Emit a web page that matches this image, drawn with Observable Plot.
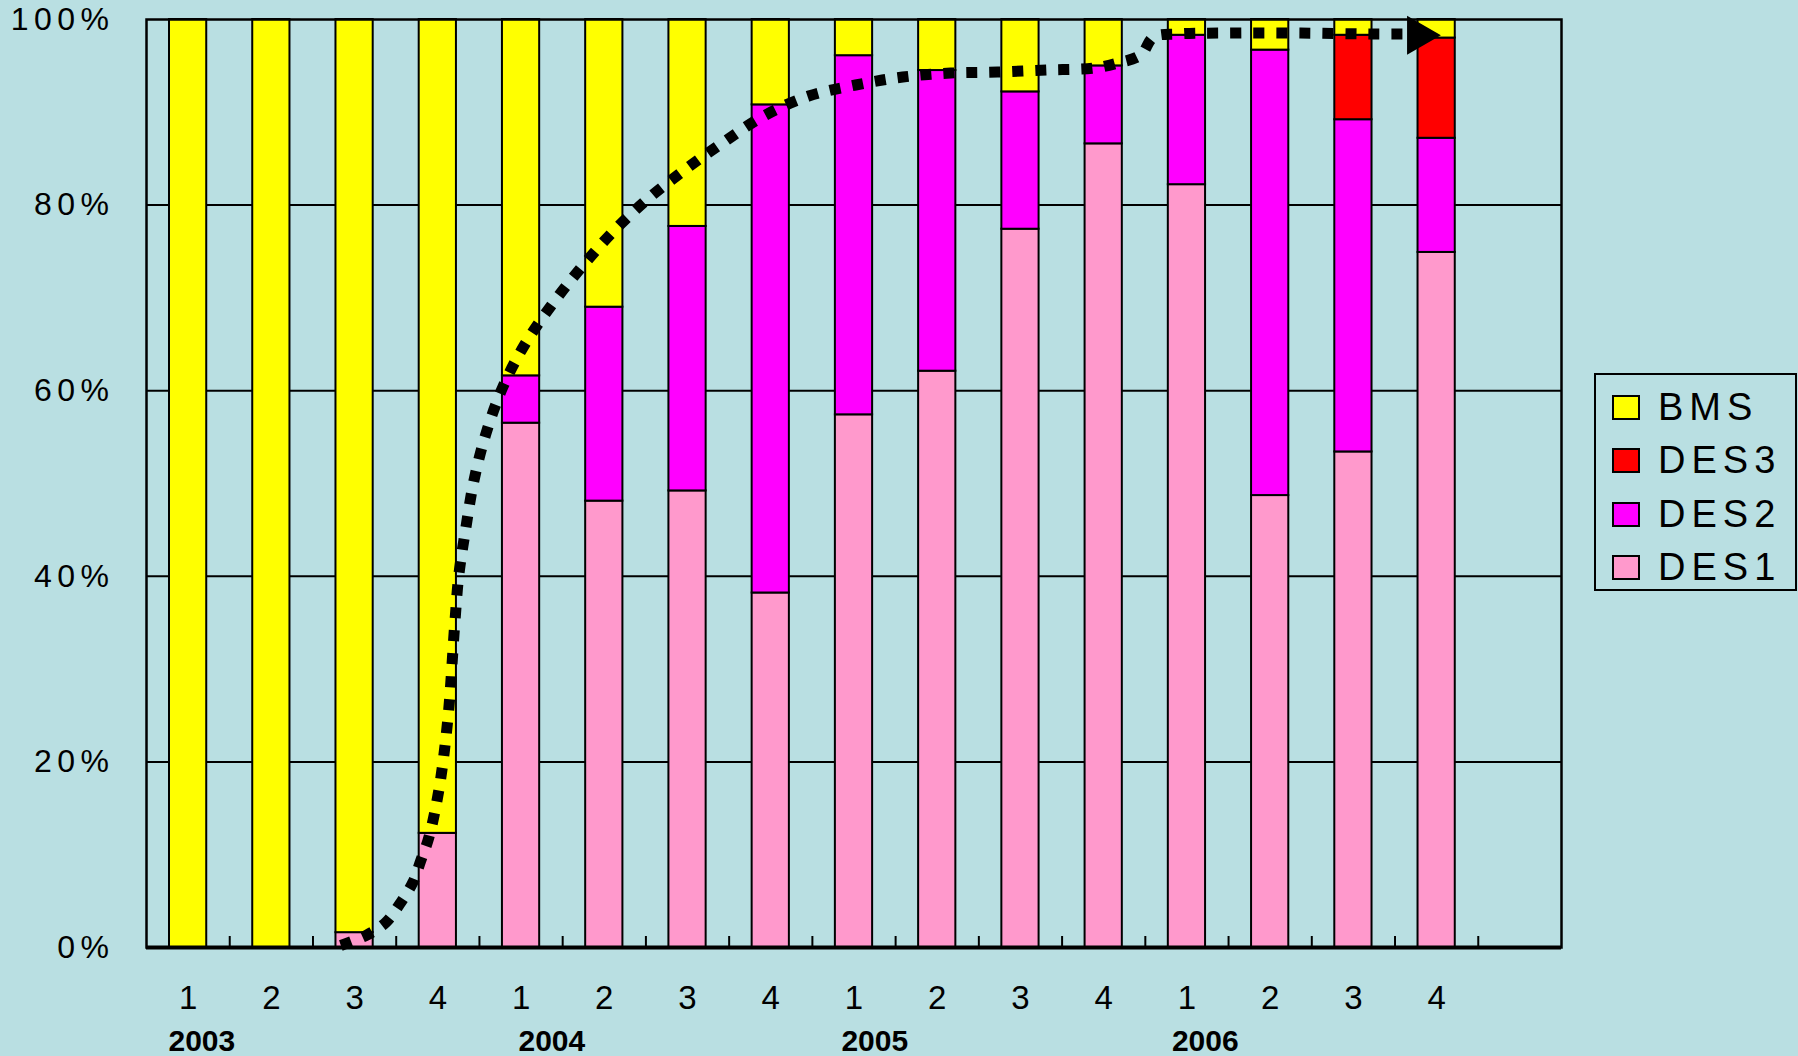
<!DOCTYPE html>
<html><head><meta charset="utf-8">
<script src="https://cdn.jsdelivr.net/npm/d3@7"></script>
<script src="https://cdn.jsdelivr.net/npm/@observablehq/plot@0.6"></script>
<style>
html,body{margin:0;padding:0;background:#B9DFE2;}
#wrap{position:relative;width:1798px;height:1056px;overflow:hidden;}
#legend{position:absolute;left:1594px;top:373px;width:199px;height:214px;border:2px solid #000;font-family:"Liberation Sans",Arial,sans-serif;color:#000;}
.item{position:absolute;left:16px;height:40px;display:flex;align-items:center;}
.sw{width:24px;height:21px;border:2px solid #000;margin-right:18px;}
.lab{font-size:38px;letter-spacing:6px;line-height:40px;}
svg g[aria-label="y-axis tick label"] text{letter-spacing:5.5px;}
</style></head><body><div id="wrap"><div id="legend"></div></div>
<script>
// ---- data ----
const quarters = ["1","2","3","4","1","2","3","4","1","2","3","4","1","2","3","4"];
const years = ["2003","2004","2005","2006"];
const yearSlot = [0.665, 4.87, 8.75, 12.72];
const series = ["DES1","DES2","DES3","BMS"];
const colors = ["#FF99CC","#FF00FF","#FF0000","#FFFF00"];
const legendOrder = ["BMS","DES3","DES2","DES1"];
const des1 = [0, 0, 1.6, 12.3, 56.5, 48.1, 49.2, 38.2, 57.4, 62.1, 77.4, 86.6, 82.2, 48.7, 53.4, 74.9];
const des2 = [0, 0, 0, 0, 5.1, 20.9, 28.5, 52.6, 38.7, 32.4, 14.8, 8.4, 16.1, 48.0, 35.8, 12.3];
const des3 = [0, 0, 0, 0, 0, 0, 0, 0, 0, 0, 0, 0, 0, 0, 9.1, 10.8];
const bms  = [100, 100, 98.4, 87.7, 38.4, 31.0, 22.3, 9.2, 3.9, 5.5, 7.8, 5.0, 1.7, 3.3, 1.7, 2.0];
const yTicks = [0, 20, 40, 60, 80, 100];
const gridTicks = [20, 40, 60, 80];
const slotBounds = [1,2,3,4,5,6,7,8,9,10,11,12,13,14,15,16];
// trend annotation (slot units, percent)
const trendX = [2.335, 2.635, 2.875, 3.055, 3.20, 3.296, 3.392, 3.512, 3.62, 3.704, 3.752, 3.836, 3.932, 4.076, 4.28, 4.533, 4.857, 5.217, 5.601, 6.021, 6.478, 6.934, 7.415, 7.955, 8.52, 9.085, 9.662, 10.226, 10.827, 11.391, 11.668, 11.944, 12.1, 12.389, 12.953, 13.865, 14.682, 15.13];
const trendY = [0.22, 1.29, 2.70, 4.85, 7.01, 9.38, 11.86, 16.93, 24.58, 34.93, 40.11, 45.18, 50.24, 55.31, 60.38, 64.80, 69.11, 73.21, 77.09, 80.65, 83.88, 86.79, 89.60, 91.75, 92.94, 93.80, 94.23, 94.34, 94.56, 94.77, 95.31, 96.17, 98.11, 98.44, 98.54, 98.54, 98.44, 98.44];
const arrowX = [15.28];
const arrowY = [98.3];

// ---- build ----
const vals = [des1, des2, des3, bms];
const table = [];
quarters.forEach((q, i) => series.forEach((s, k) => {
  const v = vals[k][i];
  if (v > 0) table.push({idx: i, series: s, value: v});
}));
const trend = trendX.map((x, i) => ({x, y: trendY[i]}));
const arrow = arrowX.map((x, i) => ({x, y: arrowY[i]}));

const chart = Plot.plot({
  width: 1798, height: 1056,
  marginLeft: 146, marginRight: 237, marginTop: 19, marginBottom: 109,
  style: {background: "transparent", fontFamily: "Liberation Sans, Arial, sans-serif", color: "#000", overflow: "visible"},
  x: {type: "linear", domain: [0, 17], axis: null},
  y: {domain: [0, 100], axis: null},
  color: {domain: series, range: colors},
  marks: [
    Plot.ruleY(gridTicks, {stroke: "#000", strokeWidth: 2}),
    Plot.rectY(table, {x: "idx", interval: 1, y: "value", fill: "series", order: series, stroke: "#000", strokeWidth: 2, insetLeft: 23, insetRight: 23}),
    Plot.axisX(slotBounds, {tickSize: -11, strokeWidth: 2, tickFormat: () => "", stroke: "#000"}),
    Plot.line(trend, {x: "x", y: "y", curve: "catmull-rom", stroke: "#000", strokeWidth: 11, strokeDasharray: "11,12", strokeLinecap: "butt"}),
    Plot.dot(arrow, {x: "x", y: "y", symbol: "triangle", rotate: 90, r: 14.5, fill: "#000", stroke: null}),
    Plot.frame({stroke: "#000", strokeWidth: 2.5}),
    Plot.ruleY([0], {stroke: "#000", strokeWidth: 4}),
    Plot.axisY(yTicks, {tickSize: 0, tickPadding: 32, tickFormat: d => d + "%", fontSize: 32, fill: "#000"}),
    Plot.text(quarters, {x: (d, i) => i + 0.5, frameAnchor: "bottom", dy: 61, text: d => d, fontSize: 33, fill: "#000"}),
    Plot.text(years, {x: (d, i) => yearSlot[i], frameAnchor: "bottom", dy: 103, text: d => d, fontSize: 30, fontWeight: "bold", fill: "#000"})
  ]
});
document.getElementById("wrap").prepend(chart);

const legend = document.getElementById("legend");
const centers = [32, 85, 139, 192];
legendOrder.forEach((s, i) => {
  const it = document.createElement("div");
  it.className = "item";
  it.style.top = (centers[i] - 20) + "px";
  const sw = document.createElement("div");
  sw.className = "sw";
  sw.style.background = colors[series.indexOf(s)];
  const lab = document.createElement("span");
  lab.className = "lab";
  lab.textContent = s;
  it.append(sw, lab);
  legend.append(it);
});
</script></body></html>
